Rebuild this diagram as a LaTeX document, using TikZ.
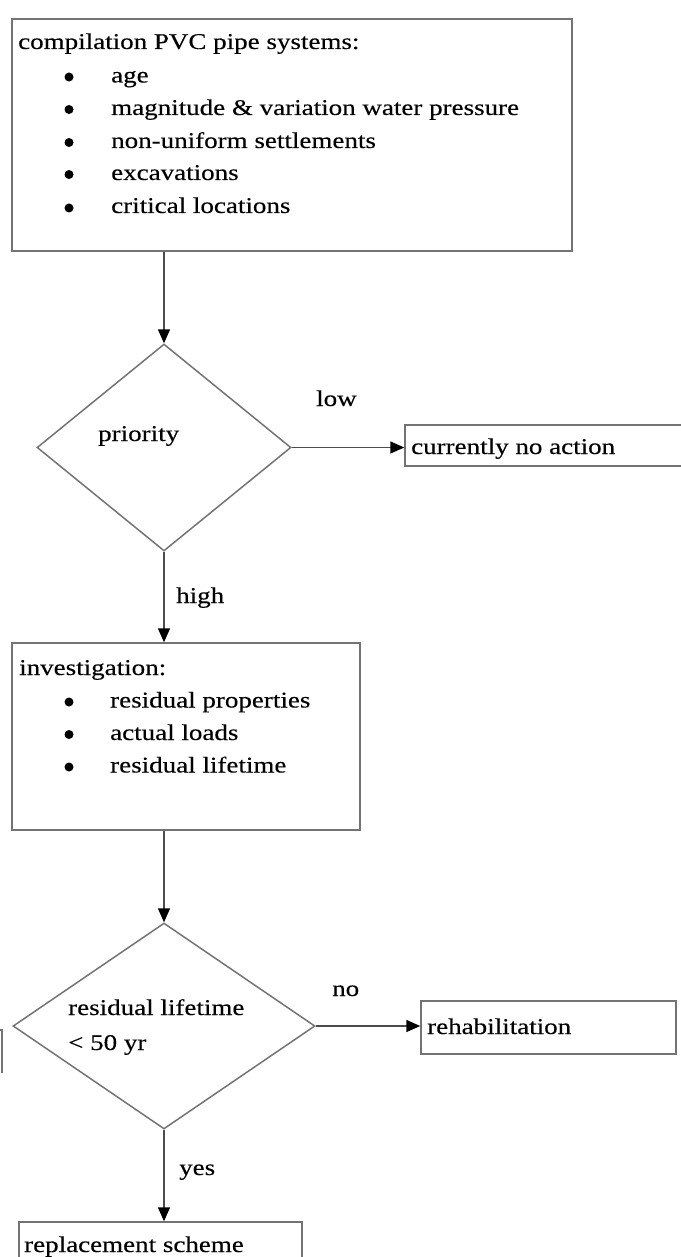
\documentclass[tikz,border=0pt]{standalone}
\usepackage{fontspec}
\setmainfont{Liberation Serif}[FakeStretch=1.2,FakeBold=0.3]
\usetikzlibrary{shapes.geometric,arrows.meta}
\begin{document}
\begin{tikzpicture}[x=1pt,y=-1pt,
  box/.style={draw=black!55,line width=1.5pt,rectangle,inner sep=0pt},
  dia/.style={draw=black!55,line width=1.5pt,diamond,inner sep=0pt},
  txt/.style={inner sep=0pt,anchor=base west,font=\fontsize{22.5pt}{27pt}\selectfont,text=black},
  bul/.style={circle,fill=black,inner sep=0pt,minimum size=9pt},
  arr/.style={draw=black!70,line width=1.5pt,-{Triangle[length=14pt,width=12pt,color=black]}}]
\useasboundingbox (0,0) rectangle (680,1257);
% boxes
\node[box,minimum width=560pt,minimum height=232pt] (top) at (292,135) {};
\node[box,minimum width=277pt,minimum height=41pt] (noact) at (543.5,445.5) {};
\node[box,minimum width=348pt,minimum height=187pt] (inv) at (186,736.5) {};
\node[box,minimum width=255pt,minimum height=53pt] (rehab) at (548.5,1027.5) {};
\node[box,minimum width=283pt,minimum height=48pt] (repl) at (160.5,1246) {};
% diamonds
\node[dia,minimum width=254pt,minimum height=207pt] (d1) at (164,447.5) {};
\node[dia,minimum width=302pt,minimum height=206pt] (d2) at (164,1026) {};
% partial frame at left edge
\draw[draw=black!55,line width=1.5pt] (-3,1030) -- (2,1030) -- (2,1073);
% top box text
\node[txt] (t0) at (18,49) {compilation PVC pipe systems:};
\node[bul] (b1) at (69,77) {};
\node[txt] (t1) at (111,82.5) {age};
\node[bul] (b2) at (69,109.5) {};
\node[txt] (t2) at (111,115) {magnitude \& variation water pressure};
\node[bul] (b3) at (69,142.5) {};
\node[txt] (t3) at (111,148) {non-uniform settlements};
\node[bul] (b4) at (69,174.5) {};
\node[txt] (t4) at (111,180) {excavations};
\node[bul] (b5) at (69,208) {};
\node[txt] (t5) at (111,213) {critical locations};
% investigation text
\node[txt] (i0) at (19,675) {investigation:};
\node[bul] (ib1) at (69,702) {};
\node[txt] (i1) at (110,707.5) {residual properties};
\node[bul] (ib2) at (69,734.5) {};
\node[txt] (i2) at (110,740) {actual loads};
\node[bul] (ib3) at (69,767) {};
\node[txt] (i3) at (110,772.5) {residual lifetime};
% other texts
\node[txt] (pr) at (98,441) {priority};
\node[txt] (low) at (316,406) {low};
\node[txt] (na) at (411,454) {currently no action};
\node[txt] (high) at (176,603) {high};
\node[txt] (rl1) at (68,1015) {residual lifetime};
\node[txt] (rl2) at (68,1050) {< 50 yr};
\node[txt] (no) at (332,996) {no};
\node[txt] (rh) at (427,1034) {rehabilitation};
\node[txt] (yes) at (179,1175) {yes};
\node[txt] (rs) at (24,1252) {replacement scheme};
% connectors
\draw[arr] (d1.north |- top.south) -- (d1.north);
\draw[arr] (d1.east) -- (d1.east -| noact.west);
\draw[arr] (d1.south) -- (d1.south |- inv.north);
\draw[arr] (d2.north |- inv.south) -- (d2.north);
\draw[arr] (d2.east) -- (d2.east -| rehab.west);
\draw[arr] (d2.south) -- (d2.south |- repl.north);
\end{tikzpicture}
\end{document}
